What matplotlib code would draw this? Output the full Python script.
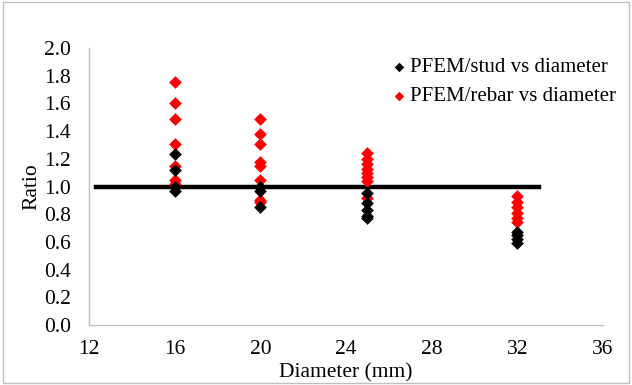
import matplotlib.pyplot as plt
from matplotlib.patches import Rectangle

plt.rcParams['font.family'] = ['Liberation Serif', 'DejaVu Serif']

# --- data ---
stud_x = [16, 16, 16, 16, 20, 20, 20, 25, 25, 25, 25, 25, 32, 32, 32, 32]
stud_y = [1.235, 1.12, 1.0, 0.965, 1.0, 0.97, 0.85, 0.955, 0.88, 0.83, 0.79, 0.77, 0.67, 0.65, 0.62, 0.59]

rebar_x = [16, 16, 16, 16, 16, 16, 16, 20, 20, 20, 20, 20, 20, 20, 20,
           25, 25, 25, 25, 25, 25, 25, 25, 32, 32, 32, 32, 32, 32]
rebar_y = [1.757, 1.60, 1.49, 1.31, 1.15, 1.05, 1.02, 1.49, 1.38, 1.305, 1.18, 1.145, 1.05, 0.905, 0.885,
           1.24, 1.20, 1.16, 1.13, 1.10, 1.07, 1.04, 0.915, 0.93, 0.89, 0.85, 0.81, 0.77, 0.745]

ref_x = [12.3, 33.0]
ref_y = [1.0, 1.0]

fig = plt.figure(figsize=(6.32, 3.85), dpi=100)
ax = fig.add_axes([0.141, 0.156, 0.813, 0.719])

ax.plot(ref_x, ref_y, color='black', lw=3.2, zorder=1)
ax.scatter(stud_x, stud_y, marker='D', s=42, color='black', lw=0,
           label='PFEM/stud vs diameter', zorder=3)
ax.scatter(rebar_x, rebar_y, marker='D', s=42, color='#ff0000', lw=0,
           label='PFEM/rebar vs diameter', zorder=2)

ax.set_xlim(12, 36)
ax.set_ylim(0, 2.0)
ax.set_xticks(range(12, 37, 4))
ax.set_yticks([i / 5 for i in range(11)])
ax.set_yticklabels([f'{i / 5:.1f}' for i in range(11)])
ax.tick_params(axis='x', length=0, labelsize=15.5, pad=11)
ax.tick_params(axis='y', length=0, labelsize=15.5, pad=13)
ax.set_xlabel('Diameter (mm)', fontsize=15.5, labelpad=3)
ax.set_ylabel('Ratio', fontsize=15.5, labelpad=2)

for side in ['top', 'right']:
    ax.spines[side].set_visible(False)
for side in ['left', 'bottom']:
    ax.spines[side].set_color('#bfbfbf')
    ax.spines[side].set_linewidth(1)

ax.legend(loc='upper left', bbox_to_anchor=(0.567, 0.995), frameon=False,
          fontsize=15, handletextpad=0.0, handlelength=1.0, markerscale=0.75,
          labelspacing=0.45, borderaxespad=0)

fig.patches.append(Rectangle((0.004, 0.004), 0.992, 0.99, transform=fig.transFigure,
                             fill=False, edgecolor='#bfbfbf', lw=1))

fig.savefig('out.png', dpi=100, facecolor='white')
